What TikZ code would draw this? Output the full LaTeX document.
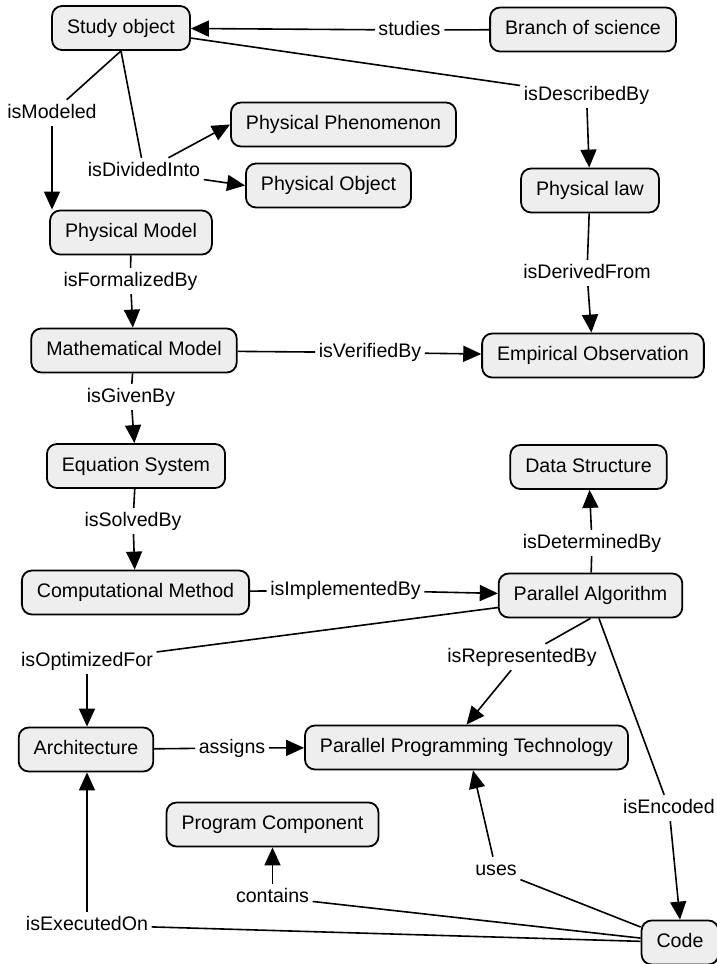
\documentclass[tikz,border=0pt]{standalone}
\usepackage{fontspec}
\setmainfont{Liberation Sans}
\usetikzlibrary{arrows.meta}
\definecolor{conceptfill}{HTML}{EEEEEE}
\begin{document}
\begin{tikzpicture}[x=1pt,y=-1pt,
  concept/.style={draw=black, line width=1.8pt, fill=conceptfill,
    rounded corners=10pt, inner xsep=15pt, inner ysep=0pt,
    minimum height=44pt, text height=14pt, text depth=4pt,
    font=\fontsize{19.6}{22}\selectfont},
  rel/.style={inner xsep=3.5pt, inner ysep=4pt, text height=14pt,
    text depth=4pt, font=\fontsize{19.6}{22}\selectfont},
  link/.style={line width=1.6pt},
  arrowlink/.style={link, -{Triangle[length=18pt,width=16pt]}},
]
\path[use as bounding box, fill=white] (0,0) rectangle (717,964);

% concepts
\node[concept] (so)   at (121,28)    {Study object};
\node[concept] (bos)  at (583,29.5)  {Branch of science};
\node[concept] (phen) at (343.5,124.5) {Physical Phenomenon};
\node[concept] (pobj) at (328.5,185.5) {Physical Object};
\node[concept] (plaw) at (590,190.5) {Physical law};
\node[concept] (pm)   at (131,232.5) {Physical Model};
\node[concept] (mm)   at (134,350.5) {Mathematical Model};
\node[concept] (eo)   at (593,355.5) {Empirical Observation};
\node[concept] (es)   at (136,466)   {Equation System};
\node[concept] (ds)   at (588.5,467) {Data Structure};
\node[concept] (cm)   at (135.5,592.5) {Computational Method};
\node[concept] (pa)   at (590.5,595.5) {Parallel Algorithm};
\node[concept] (arch) at (86,749.5)  {Architecture};
\node[concept] (ppt)  at (466.5,747.5) {Parallel Programming Technology};
\node[concept] (pc)   at (272.5,824.5) {Program Component};
\node[concept] (code) at (680,942.5) {Code};

% relation labels
\node[rel] (lStudies) at (409.5,30)  {studies};
\node[rel] (lDesc)    at (586.5,95)  {isDescribedBy};
\node[rel] (lMod)     at (52,113)    {isModeled};
\node[rel] (lDiv)     at (144,171)   {isDividedInto};
\node[rel] (lForm)    at (130.5,281) {isFormalizedBy};
\node[rel] (lVer)     at (370,352.5) {isVerifiedBy};
\node[rel] (lDer)     at (587,273)   {isDerivedFrom};
\node[rel] (lGiv)     at (131,397)   {isGivenBy};
\node[rel] (lSolv)    at (133,521)   {isSolvedBy};
\node[rel] (lImpl)    at (345.5,590) {isImplementedBy};
\node[rel] (lDet)     at (592,543)   {isDeterminedBy};
\node[rel] (lOpt)     at (87,661)    {isOptimizedFor};
\node[rel] (lRep)     at (522,657)   {isRepresentedBy};
\node[rel] (lEnc)     at (669,808)   {isEncoded};
\node[rel] (lAssn)    at (232,748)   {assigns};
\node[rel] (lUses)    at (496,870)   {uses};
\node[rel] (lCont)    at (272.5,897) {contains};
\node[rel] (lExec)    at (87,925)    {isExecutedOn};

% connectors
\draw[link] (bos) -- (lStudies);
\draw[arrowlink] (lStudies) -- (so);

\draw[link] (so) -- (lDesc);
\draw[arrowlink] (lDesc) -- (plaw);

\draw[link] (so.south) -- (lMod);
\draw[arrowlink] (lMod.south) -- (lMod.south |- pm.north);

\draw[link] (so.south) -- (lDiv);
\draw[arrowlink] (lDiv) -- (phen.west);
\draw[arrowlink] (lDiv) -- (pobj.west);

\draw[link] (pm) -- (lForm);
\draw[arrowlink] (lForm) -- (mm);

\draw[link] (mm) -- (lVer);
\draw[arrowlink] (lVer) -- (eo);

\draw[link] (plaw) -- (lDer);
\draw[arrowlink] (lDer) -- (eo);

\draw[link] (mm) -- (lGiv);
\draw[arrowlink] (lGiv) -- (es);

\draw[link] (es) -- (lSolv);
\draw[arrowlink] (lSolv) -- (cm);

\draw[link] (cm) -- (lImpl);
\draw[arrowlink] (lImpl) -- (pa);

\draw[link] (pa) -- (lDet);
\draw[arrowlink] (lDet) -- (ds);

\draw[link] (pa) -- (lOpt);
\draw[arrowlink] (lOpt.south) -- (lOpt.south |- arch.north);

\draw[link] (pa.south) -- (lRep);
\draw[arrowlink] (lRep) -- (ppt.north);

\draw[link] (pa) -- (lEnc);
\draw[arrowlink] (lEnc) -- (code.north);

\draw[link] (arch) -- (lAssn);
\draw[arrowlink] (lAssn) -- (ppt);

\draw[link] (code) -- (lUses);
\draw[arrowlink] (lUses) -- ([xshift=6.5pt]ppt.south);

\draw[link] (code) -- (lCont);
\draw[arrowlink] (lCont) -- (pc);

\draw[link] (code) -- (lExec);
\draw[arrowlink] (lExec.north) -- (lExec.north |- arch.south);
\end{tikzpicture}
\end{document}
